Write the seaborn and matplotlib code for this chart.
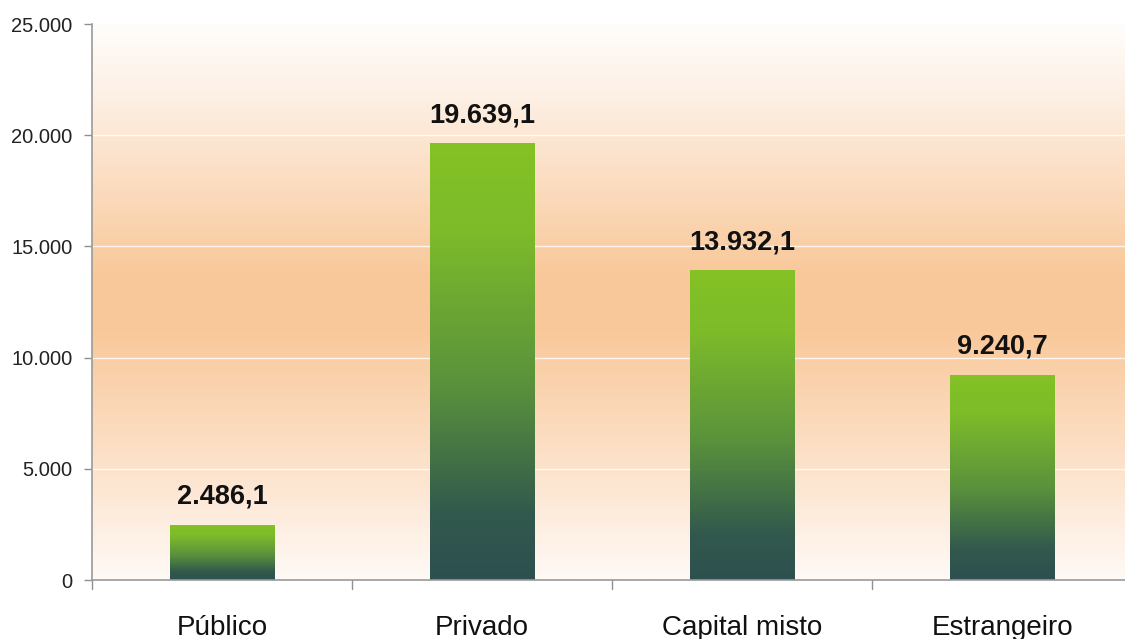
import numpy as np
import matplotlib
matplotlib.use("Agg")
import matplotlib.pyplot as plt
from matplotlib.colors import LinearSegmentedColormap
import seaborn as sns
import pandas as pd

categories = ["Público", "Privado", "Capital misto", "Estrangeiro"]
values = [2486.1, 19639.1, 13932.1, 9240.7]
value_labels = ["2.486,1", "19.639,1", "13.932,1", "9.240,7"]
y_ticks = [0, 5000, 10000, 15000, 20000, 25000]
y_tick_labels = ["0", "5.000", "10.000", "15.000", "20.000", "25.000"]

sns.set_theme(style="white")
plt.rcParams["font.family"] = ["Liberation Sans", "DejaVu Sans"]

df = pd.DataFrame({"categoria": categories, "valor": values})

fig = plt.figure(figsize=(11.25, 6.39), dpi=100)
ax = fig.add_axes([0.0818, 0.0923, 0.9245, 0.8701])

sns.barplot(data=df, x="categoria", y="valor", ax=ax, width=0.4,
            color="#6aa83a", saturation=1, zorder=3)

ax.set_ylim(0, 25000)
ax.set_xlim(-0.5, 3.5)

# background: white at top and bottom, warm orange band in the middle
bg_cmap = LinearSegmentedColormap.from_list(
    "bg", [(0.0, "#fffdfb"), (0.12, "#fdf1e6"), (0.45, "#f9c89a"),
           (0.55, "#f9c89a"), (0.85, "#fde8d6"), (1.0, "#fffaf6")])
grad = np.linspace(0, 1, 256).reshape(-1, 1)
ax.imshow(grad, aspect="auto", cmap=bg_cmap, extent=(-0.5, 3.5, 0, 25000),
          origin="upper", zorder=0)

# white horizontal grid
for yv in y_ticks[1:-1]:
    ax.axhline(yv, color="white", lw=1.0, alpha=0.8, zorder=1)

# per-bar vertical gradient: bright green top -> dark teal bottom
bar_cmap = LinearSegmentedColormap.from_list(
    "bar", [(0.0, "#2d504f"), (0.15, "#32594d"), (0.45, "#5a923c"),
            (0.8, "#7dbb2a"), (1.0, "#84c225")])
bar_grad = np.linspace(0, 1, 256).reshape(-1, 1)
for patch in ax.patches:
    x0, y0 = patch.get_x(), patch.get_y()
    w, h = patch.get_width(), patch.get_height()
    patch.set_facecolor("none")
    patch.set_edgecolor("none")
    im = ax.imshow(bar_grad, aspect="auto", cmap=bar_cmap,
                   extent=(x0, x0 + w, y0, y0 + h), origin="lower", zorder=3)
    im.set_clip_path(patch)

for i, (v, lab) in enumerate(zip(values, value_labels)):
    ax.text(i, v + 940, lab, ha="center", va="baseline", fontsize=19.5,
            fontweight="bold", color="#111111", zorder=5)

ax.set_xlim(-0.5, 3.5)
ax.set_ylim(0, 25000)
ax.set_yticks(y_ticks)
ax.set_yticklabels(y_tick_labels, fontsize=14.5, color="#222222")
ax.set_xticks([0, 1, 2, 3])
ax.set_xticklabels(categories, fontsize=20, color="#111111")
ax.set_xlabel("")
ax.set_ylabel("")

# category separators on the x axis
ax.tick_params(axis="x", length=0, pad=25)
for xb in [-0.5, 0.5, 1.5, 2.5]:
    ax.plot([xb, xb], [0, -400], color="#909090", lw=1, clip_on=False, zorder=4)
ax.tick_params(axis="y", length=6, width=1, color="#909090", left=True, pad=8)

for side in ["top", "right"]:
    ax.spines[side].set_visible(False)
for side in ["left", "bottom"]:
    ax.spines[side].set_color("#9a9a9a")
    ax.spines[side].set_linewidth(1.2)
    ax.spines[side].set_zorder(4)

fig.savefig("out.png", dpi=100, facecolor="white")
